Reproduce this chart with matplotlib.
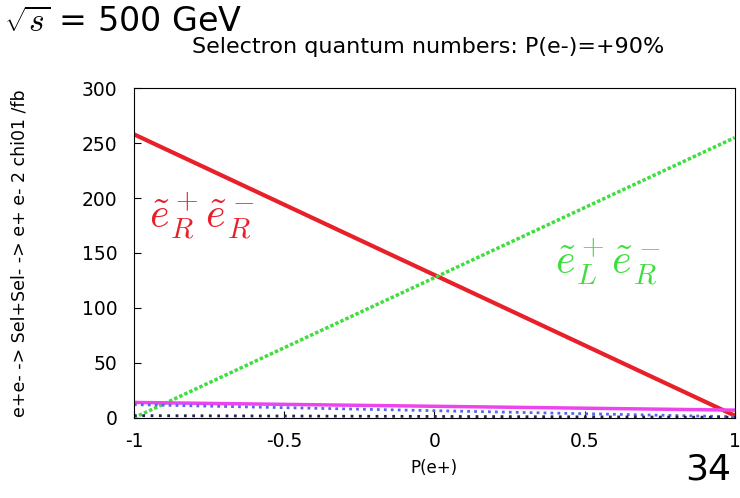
import numpy as np
import matplotlib
matplotlib.use("Agg")
import matplotlib.pyplot as plt

plt.rcParams["mathtext.fontset"] = "cm"

# cross sections (fb) at the two ends of P(e+), linear in between
pol_ends = [-1.0, 1.0]
sig_RR = [258, 2]      # red
sig_LR = [0, 255]      # green
sig_mag = [14, 7]      # magenta
sig_blue = [12, 1]     # blue dotted
sig_dark = [2, 0.5]    # dark dotted

x_ticks = [-1, -0.5, 0, 0.5, 1]
x_ticklabels = ["-1", "-0.5", "0", "0.5", "1"]
y_ticks = [0, 50, 100, 150, 200, 250, 300]

fig = plt.figure(figsize=(7.4, 4.98), dpi=100)
ax = fig.add_axes([0.181, 0.161, 0.812, 0.662])

ax.plot(pol_ends, sig_RR, color="#e8202a", lw=3)
ax.plot(pol_ends, sig_LR, color="#40dd40", lw=2.5, ls=(0, (1, 0.6)))
ax.plot(pol_ends, sig_mag, color="#ee44ee", lw=2.5)
ax.plot(pol_ends, sig_blue, color="#5566ee", lw=2, ls=(0, (1, 1.5)))
ax.plot(pol_ends, sig_dark, color="#222255", lw=2, ls=(0, (1, 2)))

ax.set_xlim(-1, 1)
ax.set_ylim(0, 300)
ax.set_xticks(x_ticks)
ax.set_xticklabels(x_ticklabels)
ax.set_yticks(y_ticks)
ax.tick_params(direction="in", labelsize=13.5, length=5, pad=12)
ax.tick_params(axis="x", pad=10)

ax.set_xlabel("P(e+)", fontsize=12, labelpad=6)
ax.set_ylabel("e+e- -> Sel+Sel- -> e+ e- 2 chi01 /fb", fontsize=12.5, labelpad=38)

ax.text(-0.95, 183, r"$\tilde{e}^+_R\tilde{e}^-_R$", color="#e8202a", fontsize=30,
        va="center")
ax.text(0.4, 142, r"$\tilde{e}^+_L\tilde{e}^-_R$", color="#40dd40", fontsize=30,
        va="center")

fig.text(0.006, 0.955, r"$\sqrt{s}$ = 500 GeV", fontsize=24, va="center")
fig.text(0.578, 0.905, "Selectron quantum numbers: P(e-)=+90%", fontsize=16,
         ha="center", va="center")
fig.text(0.988, 0.058, "34", fontsize=26, ha="right", va="center")

fig.savefig("out.png", dpi=100)
